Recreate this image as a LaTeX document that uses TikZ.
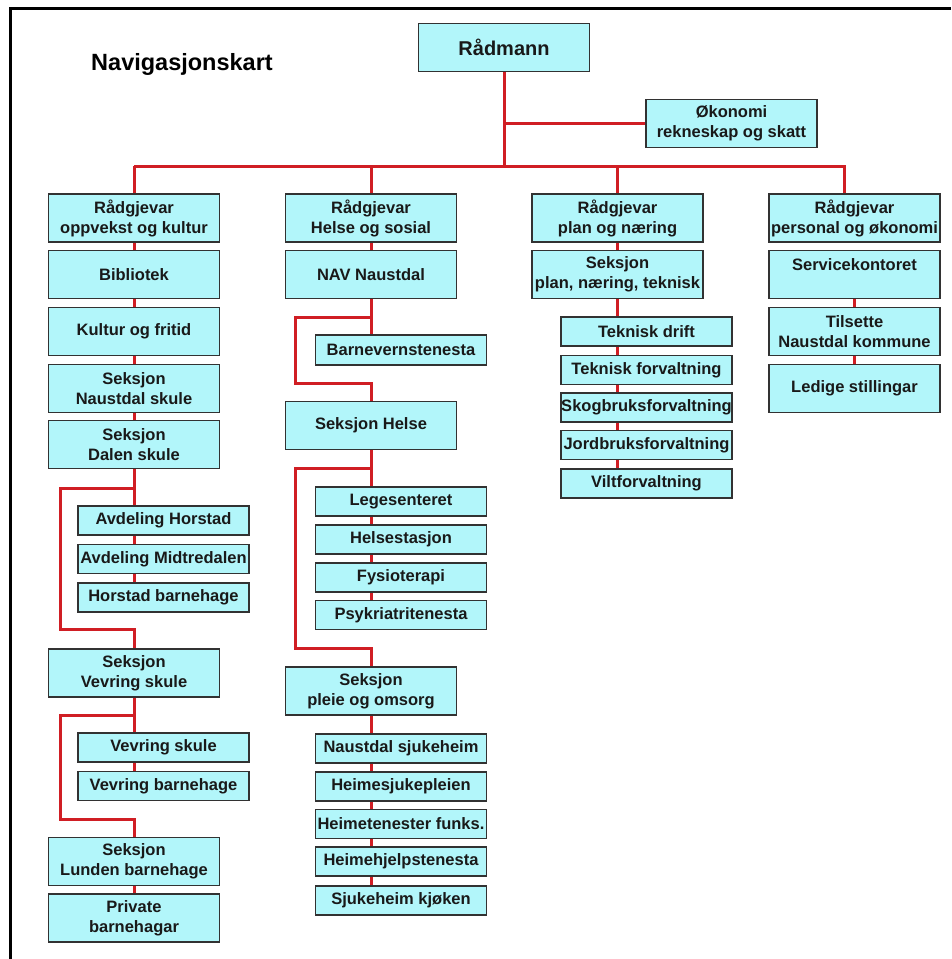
\documentclass[tikz,border=0pt]{standalone}
\usepackage{fontspec}
\setmainfont{Liberation Sans}
\usepackage{tikz}
\definecolor{boxfill}{RGB}{178,246,250}
\definecolor{boxline}{RGB}{50,50,50}
\definecolor{linkred}{RGB}{208,30,36}

\begin{document}
\begin{tikzpicture}[x=1pt,y=-1pt,
  unit/.style={draw=boxline, fill=boxfill, line width=1.8pt, minimum width=171pt, minimum height=48pt, inner sep=0.5pt, align=center, text=black!90, font=\bfseries\fontsize{16.5}{20}\selectfont},
  subunit/.style={unit, minimum height=29pt},
  link/.style={draw=linkred, line width=3pt}]

\useasboundingbox (0,0) rectangle (951,959);

%frame
\draw[line width=3pt] (951,8.5) -- (10,8.5) -- (10,959);

\node[font=\bfseries\fontsize{23.5}{28}\selectfont] (title) at (182,64) {Navigasjonskart};

%top of the tree
\node[unit, font=\bfseries\fontsize{20}{24}\selectfont] (rad) at (504,47.5) {Rådmann};
\node[unit] (oko) at (731.5,123.5) {Økonomi\\rekneskap og skatt};

\node[unit] (rg1) at (134,218) {Rådgjevar\\oppvekst og kultur};
\node[unit] (rg2) at (371,218) {Rådgjevar\\Helse og sosial};
\node[unit] (rg3) at (617.5,218) {Rådgjevar\\plan og næring};
\node[unit] (rg4) at (854.5,218) {Rådgjevar\\personal og økonomi};
\coordinate (t4) at ([xshift=-10pt]rg4.north);

\draw[link] (rad.south) -- (rad.south |- 0,166);
\draw[link] (rad.south |- oko.west) -- (oko.west);
\draw[link] (rg1.north |- 0,166) -- (t4 |- 0,166) -- (t4);
\draw[link] (rg1.north |- 0,166) -- (rg1.north);
\draw[link] (rg2.north |- 0,166) -- (rg2.north);
\draw[link] (rg3.north |- 0,166) -- (rg3.north);

%oppvekst og kultur
\node[unit] (bib) at (134,274.5) {Bibliotek};
\node[unit] (kul) at (134,331.5) {Kultur og fritid};
\node[unit] (nsk) at (134,388.5) {Seksjon\\Naustdal skule};
\node[unit] (dal) at (134,444.5) {Seksjon\\Dalen skule};
\node[subunit] (avh) at (163.5,520.5) {Avdeling Horstad};
\node[subunit] (avm) at (163.5,559) {Avdeling Midtredalen};
\node[subunit] (hbh) at (163.5,597.5) {Horstad barnehage};
\node[unit] (vev) at (134,673) {Seksjon\\Vevring skule};
\node[subunit] (vsk) at (163.5,747.5) {Vevring skule};
\node[subunit] (vbh) at (163.5,786) {Vevring barnehage};
\node[unit] (lun) at (134,861.5) {Seksjon\\Lunden barnehage};
\node[unit] (pri) at (134,918) {Private\\barnehagar};

\draw[link] (rg1) -- (bib);
\draw[link] (bib) -- (kul);
\draw[link] (kul) -- (nsk);
\draw[link] (nsk) -- (dal);
\draw[link] (dal.south) -- (avh.north -| dal.south);
\draw[link] (avh.south -| dal.south) -- (avm.north -| dal.south);
\draw[link] (avm.south -| dal.south) -- (hbh.north -| dal.south);
\draw[link] (dal.south |- 0,488) -- (60,488) -- (60,629) -- (vev.north |- 0,629) -- (vev.north);
\draw[link] (vev.south) -- (vsk.north -| vev.south);
\draw[link] (vsk.south -| vev.south) -- (vbh.north -| vev.south);
\draw[link] (vev.south |- 0,715) -- (60,715) -- (60,819) -- (lun.north |- 0,819) -- (lun.north);
\draw[link] (lun) -- (pri);

%helse og sosial
\node[unit] (nav) at (371,274.5) {NAV Naustdal};
\node[subunit, minimum height=30pt] (bvt) at (401,350) {Barnevernstenesta};
\node[unit] (hel) at (371,425.5) {Seksjon Helse};
\node[subunit] (leg) at (401,501.5) {Legesenteret};
\node[subunit] (hst) at (401,539.5) {Helsestasjon};
\node[subunit] (fys) at (401,577.5) {Fysioterapi};
\node[subunit] (psy) at (401,615) {Psykriatritenesta};
\node[unit] (ple) at (371,691) {Seksjon\\pleie og omsorg};
\node[subunit] (nsj) at (401,748.5) {Naustdal sjukeheim};
\node[subunit] (hsp) at (401,786.5) {Heimesjukepleien};
\node[subunit] (htf) at (401,824) {Heimetenester funks.};
\node[subunit] (hht) at (401,861.5) {Heimehjelpstenesta};
\node[subunit] (sjk) at (401,900.5) {Sjukeheim kjøken};

\draw[link] (rg2) -- (nav);
\draw[link] (nav.south) -- (bvt.north -| nav.south);
\draw[link] (nav.south |- 0,317) -- (295,317) -- (295,383) -- (hel.north |- 0,383) -- (hel.north);
\draw[link] (hel.south) -- (leg.north -| hel.south);
\draw[link] (leg.south -| hel.south) -- (hst.north -| hel.south);
\draw[link] (hst.south -| hel.south) -- (fys.north -| hel.south);
\draw[link] (fys.south -| hel.south) -- (psy.north -| hel.south);
\draw[link] (hel.south |- 0,468) -- (295,468) -- (295,648) -- (ple.north |- 0,648) -- (ple.north);
\draw[link] (ple.south) -- (nsj.north -| ple.south);
\draw[link] (nsj.south -| ple.south) -- (hsp.north -| ple.south);
\draw[link] (hsp.south -| ple.south) -- (htf.north -| ple.south);
\draw[link] (htf.south -| ple.south) -- (hht.north -| ple.south);
\draw[link] (hht.south -| ple.south) -- (sjk.north -| ple.south);

%plan og naering
\node[unit] (spl) at (617.5,274.5) {Seksjon\\plan, næring, teknisk};
\node[subunit] (tdr) at (646.5,331.5) {Teknisk drift};
\node[subunit] (tfv) at (646.5,370) {Teknisk forvaltning};
\node[subunit] (sfv) at (646.5,407.5) {Skogbruksforvaltning};
\node[subunit] (jfv) at (646.5,445) {Jordbruksforvaltning};
\node[subunit] (vfv) at (646.5,483.5) {Viltforvaltning};

\draw[link] (rg3) -- (spl);
\draw[link] (spl.south) -- (tdr.north -| spl.south);
\draw[link] (tdr.south -| spl.south) -- (tfv.north -| spl.south);
\draw[link] (tfv.south -| spl.south) -- (sfv.north -| spl.south);
\draw[link] (sfv.south -| spl.south) -- (jfv.north -| spl.south);
\draw[link] (jfv.south -| spl.south) -- (vfv.north -| spl.south);

%personal og okonomi
\node[unit] (svk) at (854.5,274.5) {Servicekontoret\\\mbox{}};
\node[unit] (til) at (854.5,331.5) {Tilsette\\Naustdal kommune};
\node[unit] (led) at (854.5,388.5) {Ledige stillingar};

\draw[link] (svk) -- (til);
\draw[link] (til) -- (led);

\end{tikzpicture}
\end{document}
